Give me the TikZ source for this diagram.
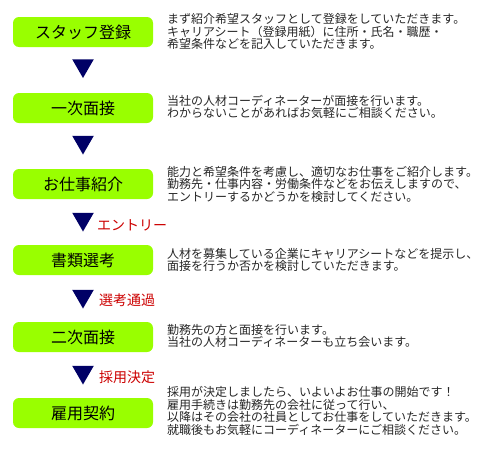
\documentclass[tikz,border=0pt]{standalone}
\usepackage{fontspec}
\setmainfont{Noto Sans CJK JP}
\usetikzlibrary{shapes.geometric}
\definecolor{stepgreen}{HTML}{99FF00}
\definecolor{arrownavy}{HTML}{000066}
\definecolor{passred}{HTML}{CC0000}
\begin{document}
\begin{tikzpicture}[x=1pt,y=-1pt,
  stepbox/.style={fill=stepgreen,rounded corners=6pt,minimum width=140pt,minimum height=30pt,inner sep=0pt,font=\fontsize{16}{16}\selectfont},
  desc/.style={anchor=west,align=left,inner sep=0pt,text=black!85,font=\fontsize{12}{12.5}\selectfont},
  down/.style={regular polygon,regular polygon sides=3,shape border rotate=180,fill=arrownavy,inner sep=0pt,minimum size=25pt},
  pass/.style={anchor=west,inner sep=0pt,text=passred,font=\fontsize{14}{14}\selectfont}]
\useasboundingbox (0,0) rectangle (500,450);
\node[stepbox] (touroku) at (83,32) {スタッフ登録};
\node[stepbox] (mensetsu1) at (83,108) {一次面接};
\node[stepbox] (shoukai) at (83,184) {お仕事紹介};
\node[stepbox] (shorui) at (83,260) {書類選考};
\node[stepbox] (mensetsu2) at (83,337) {二次面接};
\node[stepbox] (keiyaku) at (83,413) {雇用契約};
\node[down] (d1) at (83,65.5) {};
\node[down] (d2) at (83,142) {};
\node[down] (d3) at (83,219) {};
\node[down] (d4) at (83,296) {};
\node[down] (d5) at (83,372) {};
\node[pass] (entry) at (97,225) {エントリー};
\node[pass] (tsuuka) at (99,300) {選考通過};
\node[pass] (kettei) at (99,377) {採用決定};
\node[desc] (t1) at (167,31.5) {まず紹介希望スタッフとして登録をしていただきます。\\キャリアシート（登録用紙）に住所・氏名・職歴・\\希望条件などを記入していただきます。};
\node[desc] (t2) at (167,107) {当社の人材コーディネーターが面接を行います。\\わからないことがあればお気軽にご相談ください。};
\node[desc] (t3) at (167,184) {能力と希望条件を考慮し、適切なお仕事をご紹介します。\\勤務先・仕事内容・労働条件などをお伝えしますので、\\エントリーするかどうかを検討してください。};
\node[desc] (t4) at (167,260) {人材を募集している企業にキャリアシートなどを提示し、\\面接を行うか否かを検討していただきます。};
\node[desc] (t5) at (167,336) {勤務先の方と面接を行います。\\当社の人材コーディネーターも立ち会います。};
\node[desc] (t6) at (167,411) {採用が決定しましたら、いよいよお仕事の開始です！\\雇用手続きは勤務先の会社に従って行い、\\以降はその会社の社員としてお仕事をしていただきます。\\就職後もお気軽にコーディネーターにご相談ください。};
\end{tikzpicture}
\end{document}
